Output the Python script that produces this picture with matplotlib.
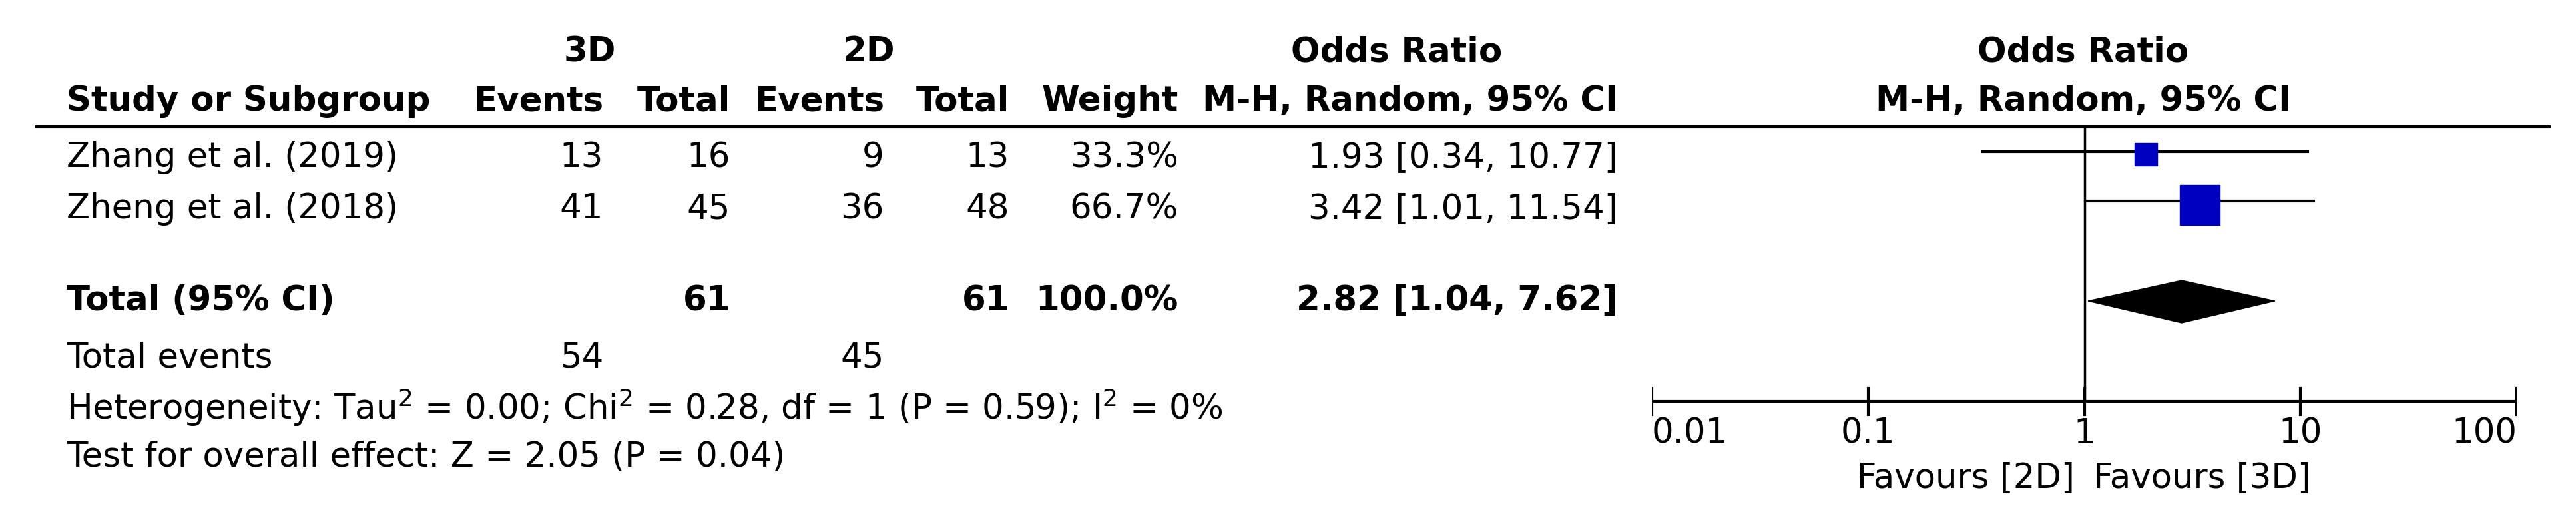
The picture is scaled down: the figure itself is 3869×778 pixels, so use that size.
import matplotlib
matplotlib.use("Agg")
import matplotlib.pyplot as plt
from matplotlib.patches import Polygon

studies = ["Zhang et al. (2019)", "Zheng et al. (2018)"]
ev3 = [13, 41]; tot3 = [16, 45]
ev2 = [9, 36]; tot2 = [13, 48]
weights = ["33.3%", "66.7%"]
orv = [1.93, 3.42]; lo = [0.34, 1.01]; hi = [10.77, 11.54]
msize = [25, 43]
tot_or, tot_lo, tot_hi = 2.82, 1.04, 7.62
ticks = [0.01, 0.1, 1, 10, 100]
tick_labels = ["0.01", "0.1", "1", "10", "100"]

W, H = 3869, 778
fig = plt.figure(figsize=(W/100, H/100), dpi=100)
ax = fig.add_axes([0, 0, 1, 1])
ax.set_xlim(0, W); ax.set_ylim(H, 0); ax.axis("off")
fs = 37
kw = dict(fontsize=fs, va="center", family="DejaVu Sans")
B = dict(kw, fontweight="bold")

ax.text(886, 78, "3D", ha="center", **B)
ax.text(1305, 78, "2D", ha="center", **B)
ax.text(2098, 78, "Odds Ratio", ha="center", **B)
ax.text(3129, 78, "Odds Ratio", ha="center", **B)
ax.text(100, 152, "Study or Subgroup", ha="left", **B)
for x, s in [(906, "Events"), (1097, "Total"), (1328, "Events"), (1516, "Total"),
             (1770, "Weight"), (2430, "M-H, Random, 95% CI")]:
    ax.text(x, 152, s, ha="right", **B)
ax.text(3129, 152, "M-H, Random, 95% CI", ha="center", **B)
ax.plot([55, 3829], [190, 190], color="black", lw=3)

rows_y = [237, 314]
for i, y in enumerate(rows_y):
    ax.text(100, y, studies[i], ha="left", **kw)
    ax.text(906, y, str(ev3[i]), ha="right", **kw)
    ax.text(1097, y, str(tot3[i]), ha="right", **kw)
    ax.text(1328, y, str(ev2[i]), ha="right", **kw)
    ax.text(1516, y, str(tot2[i]), ha="right", **kw)
    ax.text(1770, y, weights[i], ha="right", **kw)
    ax.text(2430, y, f"{orv[i]:.2f} [{lo[i]:.2f}, {hi[i]:.2f}]", ha="right", **kw)

yt = 452
ax.text(100, yt, "Total (95% CI)", ha="left", **B)
ax.text(1097, yt, str(sum(tot3)), ha="right", **B)
ax.text(1516, yt, str(sum(tot2)), ha="right", **B)
ax.text(1770, yt, "100.0%", ha="right", **B)
ax.text(2430, yt, f"{tot_or:.2f} [{tot_lo:.2f}, {tot_hi:.2f}]", ha="right", **B)
ax.text(100, 537, "Total events", ha="left", **kw)
ax.text(906, 537, str(sum(ev3)), ha="right", **kw)
ax.text(1328, 537, str(sum(ev2)), ha="right", **kw)
ax.text(100, 612, r"Heterogeneity: Tau$^2$ = 0.00; Chi$^2$ = 0.28, df = 1 (P = 0.59); I$^2$ = 0%", ha="left", **kw)
ax.text(100, 687, "Test for overall effect: Z = 2.05 (P = 0.04)", ha="left", **kw)

# forest axes
x0, x1 = 2481, 3780
fa = fig.add_axes([x0/W, 0, (x1-x0)/W, 1])
fa.set_xscale("log"); fa.set_xlim(0.01, 100); fa.set_ylim(H, 0); fa.axis("off")
ci_y = [228, 302]
for i, y in enumerate(ci_y):
    fa.plot([lo[i], hi[i]], [y, y], color="black", lw=3)
    fa.plot([orv[i]], [y + (4 if i == 0 else 6)], marker="s", ms=msize[i], color="#0000C0", mec="#0000C0", linestyle="none")
fa.add_patch(Polygon([(tot_lo, yt), (tot_or, 421), (tot_hi, yt), (tot_or, 485)], closed=True, color="black"))
fa.plot([1, 1], [190, 603], color="black", lw=2.5)
fa.plot([0.01, 100], [603, 603], color="black", lw=3)
for t, l in zip(ticks, tick_labels):
    fa.plot([t, t], [583, 623], color="black", lw=3)
    fa.text(t, 652, l, ha="left" if t == 0.01 else ("right" if t == 100 else "center"), **kw)
fa.text(0.9, 718, "Favours [2D]", ha="right", **kw)
fa.text(1.1, 718, "Favours [3D]", ha="left", **kw)

fig.savefig("out.png", dpi=100)
